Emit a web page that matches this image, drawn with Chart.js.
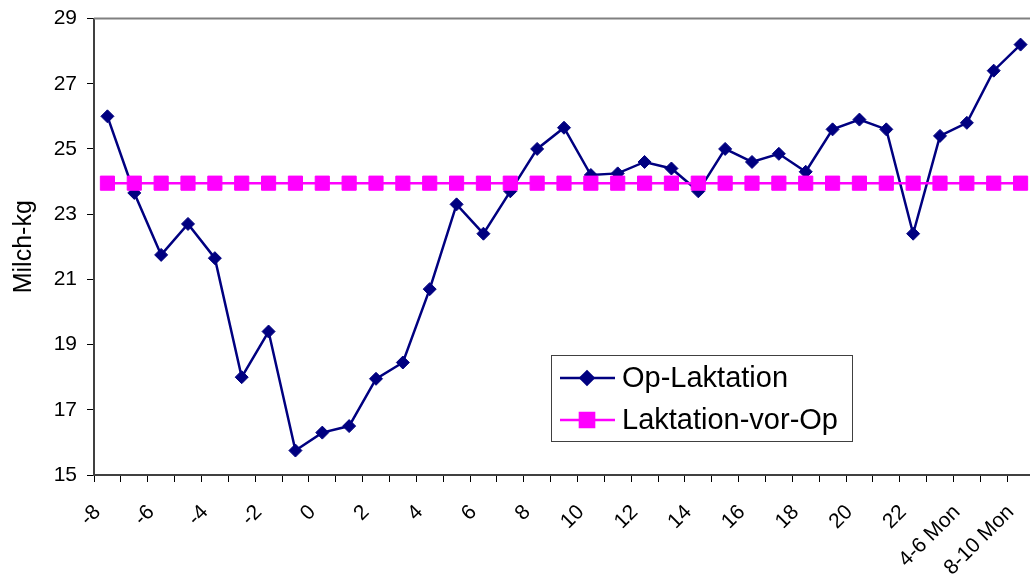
<!DOCTYPE html>
<html>
<head>
<meta charset="utf-8">
<title>Milch-kg Op-Laktation</title>
<script src="https://cdn.jsdelivr.net/npm/chart.js@4/dist/chart.umd.min.js"></script>
<style>
  html, body { margin: 0; padding: 0; background: #fff; overflow: hidden; }
  #wrap { position: relative; width: 1045px; height: 577px; }
</style>
</head>
<body>
<div id="wrap"><canvas id="milchChart"></canvas></div>
<script>
// Wochen relativ zur Op, danach Monatsbereiche
const categories = [
  "-8", "-7", "-6", "-5", "-4", "-3", "-2", "-1", "0", "1", "2", "3", "4", "5", "6", "7",
  "8", "9", "10", "11", "12", "13", "14", "15", "16", "17", "18", "19", "20", "21", "22",
  "2-4 Mon", "4-6 Mon", "6-8 Mon", "8-10 Mon"
];

const opLaktation = [
  26.0, 23.65, 21.75, 22.7, 21.65, 18.0, 19.4, 15.75, 16.3, 16.5, 17.95, 18.45, 20.7, 23.3, 22.4, 23.7,
  25.0, 25.65, 24.2, 24.25, 24.6, 24.4, 23.7, 25.0, 24.6, 24.85, 24.3, 25.6, 25.9, 25.6, 22.4,
  25.4, 25.8, 27.4, 28.2
];

const laktationVorOp = [
  23.95, 23.95, 23.95, 23.95, 23.95, 23.95, 23.95, 23.95, 23.95, 23.95, 23.95, 23.95, 23.95, 23.95, 23.95, 23.95,
  23.95, 23.95, 23.95, 23.95, 23.95, 23.95, 23.95, 23.95, 23.95, 23.95, 23.95, 23.95, 23.95, 23.95, 23.95,
  23.95, 23.95, 23.95, 23.95
];

const yMin = 15;
const yMax = 29;
const yStep = 2;

Chart.defaults.font.family = "'Liberation Sans', Arial, sans-serif";
Chart.defaults.color = "#000";

// grauer Rahmen oben und rechts um die Zeichenfläche
const plotFrame = {
  id: "plotFrame",
  beforeDatasetsDraw(chart) {
    const { ctx, chartArea: a } = chart;
    ctx.save();
    ctx.strokeStyle = "#808080";
    ctx.lineWidth = 2;
    ctx.beginPath();
    ctx.moveTo(a.left, a.top);
    ctx.lineTo(a.right, a.top);
    ctx.lineTo(a.right, a.bottom);
    ctx.stroke();
    ctx.restore();
  }
};

// Legende mit Rahmen innerhalb der Zeichenfläche
const boxLegend = {
  id: "boxLegend",
  afterDraw(chart, args, opts) {
    const { ctx, chartArea: a } = chart;
    const x = Math.round(a.left + opts.dx);
    const y = Math.round(a.top + opts.dy);
    ctx.save();
    ctx.fillStyle = "#fff";
    ctx.fillRect(x, y, opts.w, opts.h);
    ctx.strokeStyle = "#404040";
    ctx.lineWidth = 1;
    ctx.strokeRect(x + 0.5, y + 0.5, opts.w, opts.h);

    ctx.font = opts.fontSize + "px 'Liberation Sans', Arial, sans-serif";
    ctx.textBaseline = "middle";
    chart.data.datasets.forEach((ds, i) => {
      const ry = y + opts.rowTop + i * opts.rowH;
      ctx.strokeStyle = ds.borderColor;
      ctx.lineWidth = ds.borderWidth;
      ctx.beginPath();
      ctx.moveTo(x + 9, ry);
      ctx.lineTo(x + 64, ry);
      ctx.stroke();
      ctx.fillStyle = ds.pointBackgroundColor;
      ctx.strokeStyle = ds.pointBorderColor;
      Chart.helpers.drawPoint(ctx, {
        pointStyle: ds.pointStyle,
        radius: ds.pointRadius,
        borderWidth: ds.pointBorderWidth,
        rotation: 0
      }, x + 36, ry);
      ctx.fillStyle = "#000";
      ctx.fillText(ds.label, x + 71, ry + 1);
    });
    ctx.restore();
  }
};

const ctx = document.getElementById("milchChart").getContext("2d");
new Chart(ctx, {
  type: "line",
  data: {
    labels: categories,
    datasets: [
      {
        label: "Op-Laktation",
        data: opLaktation,
        borderColor: "#000080",
        backgroundColor: "#000080",
        borderWidth: 2.5,
        pointStyle: "rectRot",
        pointRadius: 6.5,
        pointBackgroundColor: "#000080",
        pointBorderColor: "#000080",
        pointBorderWidth: 1,
        tension: 0,
        order: 2
      },
      {
        label: "Laktation-vor-Op",
        data: laktationVorOp,
        borderColor: "#ff00ff",
        backgroundColor: "#ff00ff",
        borderWidth: 2.5,
        pointStyle: "rect",
        pointRadius: 10,
        pointBackgroundColor: "#ff00ff",
        pointBorderColor: "#ff00ff",
        pointBorderWidth: 1,
        tension: 0,
        order: 1
      }
    ]
  },
  options: {
    responsive: true,
    maintainAspectRatio: false,
    animation: false,
    layout: { padding: { top: 18.5, right: 6, left: 0, bottom: 0 } },
    plugins: {
      legend: { display: false },
      tooltip: { enabled: false },
      boxLegend: { dx: 457, dy: 336.5, w: 301, h: 86, rowTop: 23, rowH: 42, fontSize: 29 }
    },
    scales: {
      x: {
        offset: true,
        grid: {
          offset: true,
          drawOnChartArea: false,
          drawTicks: true,
          tickLength: 7,
          tickColor: "#000",
          tickWidth: 1
        },
        border: { color: "#404040", width: 2 },
        ticks: {
          autoSkip: false,
          minRotation: 45,
          maxRotation: 45,
          padding: 18,
          labelOffset: -10,
          font: { size: 21 },
          callback: function (value, index) {
            return index % 2 === 0 ? this.getLabelForValue(value) : "";
          }
        },
        afterFit(scale) {
          scale.height = 102;
          scale.paddingLeft = 0;
          scale.paddingRight = 0;
        }
      },
      y: {
        min: yMin,
        max: yMax,
        grid: {
          drawOnChartArea: false,
          drawTicks: true,
          tickLength: 7,
          tickColor: "#000",
          tickWidth: 1
        },
        border: { color: "#404040", width: 2 },
        ticks: {
          stepSize: yStep,
          padding: 10,
          font: { size: 21 }
        },
        title: {
          display: true,
          text: "Milch-kg",
          font: { size: 25 },
          padding: { top: 9, bottom: 0 }
        },
        afterFit(scale) {
          scale.width = 94;
          scale.paddingTop = 0;
          scale.paddingBottom = 0;
        }
      }
    }
  },
  plugins: [plotFrame, boxLegend]
});
</script>
</body>
</html>
